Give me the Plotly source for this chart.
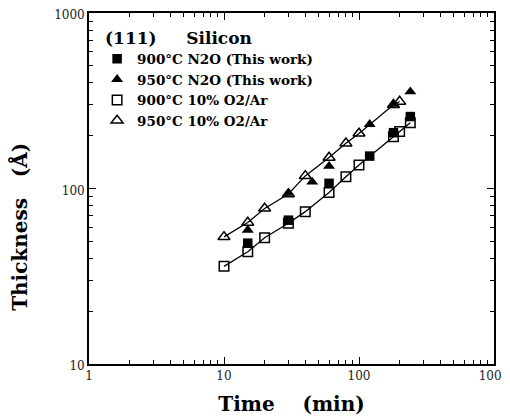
import plotly.graph_objects as go

# ---- data ----
t_sq_open = [10, 15, 20, 30, 40, 60, 80, 100, 180, 200, 240]
th_sq_open = [36, 43.6, 52.4, 63.4, 73.8, 95, 116.6, 136, 197, 211, 237]

t_sq_fill = [15, 30, 60, 120, 180, 240]
th_sq_fill = [48.8, 66, 107, 153, 208, 257]

t_tri_open = [10, 15, 20, 30, 40, 60, 80, 100, 180, 200]
th_tri_open = [53, 64, 77, 93, 118, 150, 181, 206, 300, 313]

t_tri_fill = [15, 30, 45, 60, 120, 180, 240]
th_tri_fill = [58, 94, 109, 134, 232, 303, 356]

x_ticks = [1, 10, 100, 1000]
y_ticks = [10, 100, 1000]

names = ["900°C N2O (This work)", "950°C N2O (This work)",
         "900°C 10% O2/Ar", "950°C 10% O2/Ar"]

SERIF = "DejaVu Serif"
NB = "\u00a0"
ZW = "\u200b"

fig = go.Figure()

# fit lines through the O2/Ar series
fig.add_trace(go.Scatter(x=t_sq_open, y=th_sq_open, mode="lines",
                         line=dict(color="black", width=1.3), showlegend=False,
                         hoverinfo="skip"))
fig.add_trace(go.Scatter(x=t_tri_open, y=th_tri_open, mode="lines",
                         line=dict(color="black", width=1.3), showlegend=False,
                         hoverinfo="skip"))

fig.add_trace(go.Scatter(x=t_sq_fill, y=th_sq_fill, mode="markers", name=names[0],
                         marker=dict(symbol="square", size=9.5, color="black")))
fig.add_trace(go.Scatter(x=t_tri_fill, y=th_tri_fill, mode="markers", name=names[1],
                         marker=dict(symbol="triangle-up", size=10.5, color="black")))
fig.add_trace(go.Scatter(x=t_sq_open, y=th_sq_open, mode="markers", name=names[2],
                         marker=dict(symbol="square-open", size=9.5, color="black",
                                     line=dict(width=1.5))))
fig.add_trace(go.Scatter(x=t_tri_open, y=th_tri_open, mode="markers", name=names[3],
                         marker=dict(symbol="triangle-up-open", size=10.5, color="black",
                                     line=dict(width=1.5))))

axis_common = dict(
    type="log", showline=True, linecolor="black", linewidth=1.8, mirror="allticks",
    ticks="inside", ticklen=7, tickcolor="black", tickwidth=1.2,
    showgrid=False, zeroline=False, automargin=False, ticklabeloverflow="allow",
    minor=dict(ticks="inside", ticklen=4, tickcolor="black", tickwidth=1,
               dtick="D1", showgrid=False),
    tickfont=dict(family=SERIF, size=12, color="#222"),
)

fig.update_xaxes(range=[0, 3], tickvals=x_ticks, ticktext=[str(v) for v in x_ticks],
                 title=dict(text=NB * 4 + "Time" + NB * 4 + "(min)",
                            font=dict(family=SERIF, size=20, color="black", weight="bold"),
                            standoff=15),
                 **axis_common)
fig.update_yaxes(range=[1, 3], tickvals=y_ticks, ticktext=[str(v) for v in y_ticks],
                 ticklabelshift=2,
                 title=dict(text="Thickness" + NB * 3 + "(Å)" + NB * 11 + ZW,
                            font=dict(family=SERIF, size=20, color="black", weight="bold"),
                            standoff=28),
                 **axis_common)

# page body has an 8px margin, so the figure is 8px smaller than the window
fig.update_layout(
    width=502, height=411,
    margin=dict(l=81, r=16, t=5, b=55),
    plot_bgcolor="white", paper_bgcolor="white",
    legend=dict(x=0.02, y=0.976, xanchor="left", yanchor="top",
                bgcolor="rgba(0,0,0,0)", tracegroupgap=0, itemwidth=30,
                font=dict(family=SERIF, size=13.5, color="black", weight="bold"),
                title=dict(text=NB + "(111)" + NB * 5 + "Silicon",
                           font=dict(family=SERIF, size=17, color="black", weight="bold"))),
    showlegend=True,
)

fig.write_html("out.html")
